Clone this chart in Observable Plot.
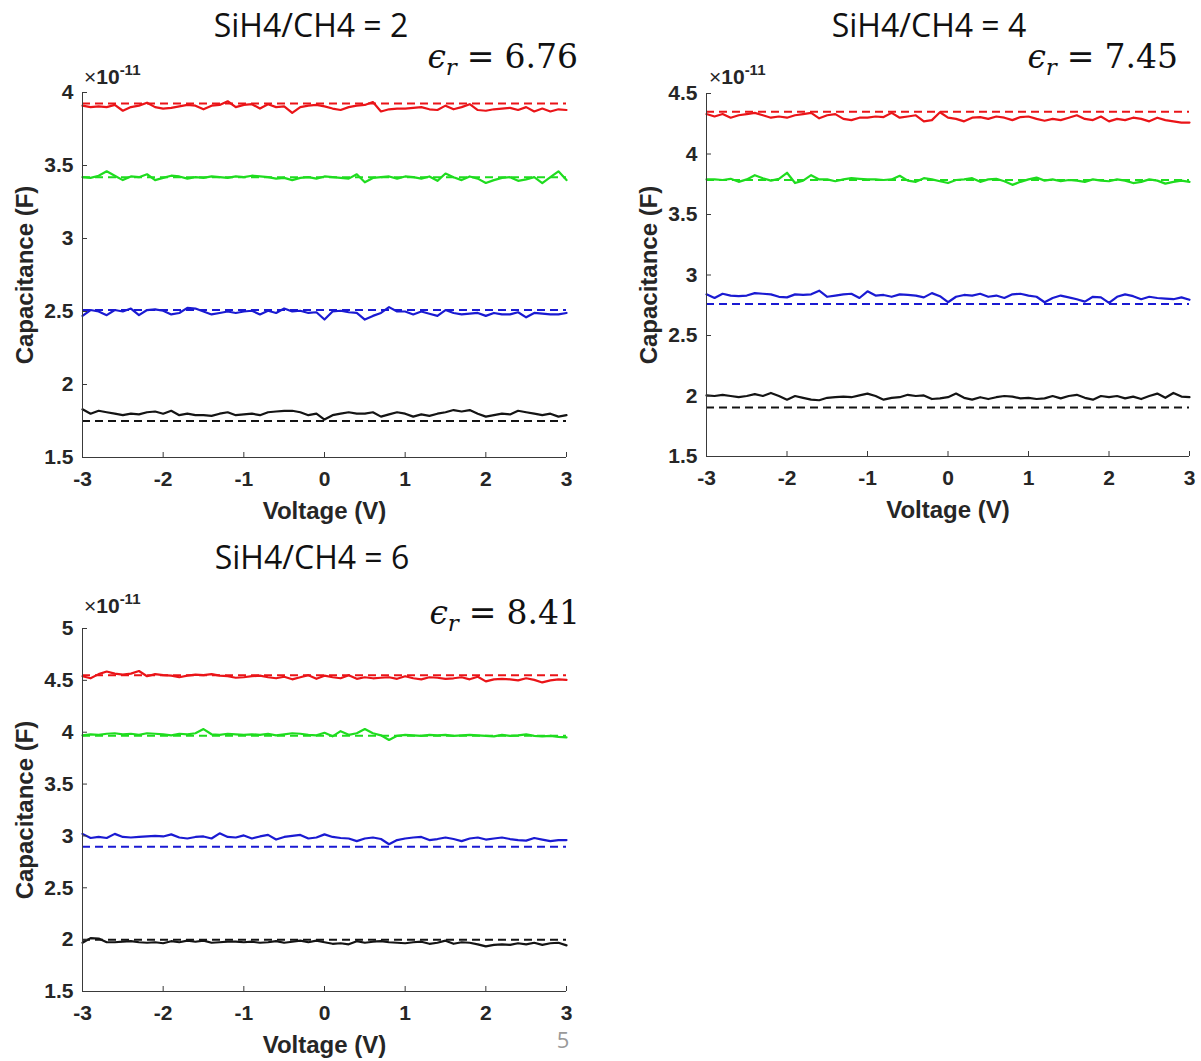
<!DOCTYPE html>
<html>
<head>
<meta charset="utf-8">
<script src="https://cdn.jsdelivr.net/npm/d3@7"></script>
<script src="https://cdn.jsdelivr.net/npm/@observablehq/plot@0.6"></script>
<style>
  html, body { margin: 0; padding: 0; background: #fff; }
  #page { position: relative; width: 1201px; height: 1061px; overflow: hidden; background: #fff; }
  .panel { position: absolute; }
  #overlay { position: absolute; left: 0; top: 0; pointer-events: none; }
</style>
</head>
<body>
<div id="page"></div>
<script>
// Voltage sweep, -3 V to +3 V in 0.1 V steps
const voltage = d3.range(61).map(i => +(i * 0.1 - 3).toFixed(1));
const voltageTicks = [-3, -2, -1, 0, 1, 2, 3];

const seriesColors = ["#ea1418", "#1fdc1f", "#1a1ad2", "#141414"];
const ratioTitles = ["SiH4/CH4 = 2", "SiH4/CH4 = 4", "SiH4/CH4 = 6"];
const permittivity = ["6.76", "7.45", "8.41"];

// Measured capacitance (units of 1e-11 F), SiH4/CH4 = 2
const ratio2Red = [3.91,3.90,3.905,3.90,3.915,3.875,3.90,3.91,3.93,3.90,
  3.89,3.895,3.905,3.915,3.91,3.885,3.91,3.915,3.94,3.90,
  3.915,3.92,3.89,3.92,3.90,3.905,3.86,3.90,3.91,3.915,
  3.905,3.89,3.88,3.90,3.91,3.915,3.935,3.87,3.885,3.89,
  3.89,3.895,3.90,3.885,3.88,3.91,3.885,3.90,3.92,3.88,
  3.875,3.885,3.89,3.895,3.88,3.90,3.87,3.89,3.87,3.885,
  3.88];
const ratio2Green = [3.42,3.415,3.43,3.46,3.43,3.40,3.425,3.42,3.44,3.40,
  3.415,3.43,3.425,3.41,3.42,3.415,3.425,3.42,3.415,3.425,
  3.42,3.43,3.425,3.42,3.41,3.415,3.40,3.415,3.42,3.41,
  3.425,3.42,3.415,3.41,3.44,3.385,3.415,3.42,3.425,3.41,
  3.425,3.42,3.41,3.425,3.395,3.445,3.42,3.40,3.425,3.41,
  3.38,3.40,3.415,3.42,3.395,3.405,3.42,3.38,3.42,3.46,
  3.40];
const ratio2Blue = [2.47,2.51,2.50,2.475,2.51,2.50,2.52,2.475,2.51,2.515,
  2.505,2.48,2.49,2.525,2.52,2.50,2.48,2.49,2.50,2.49,
  2.50,2.505,2.48,2.505,2.49,2.52,2.50,2.505,2.49,2.495,
  2.445,2.50,2.505,2.495,2.49,2.445,2.47,2.49,2.53,2.50,
  2.50,2.48,2.50,2.485,2.47,2.51,2.49,2.48,2.485,2.49,
  2.47,2.49,2.48,2.48,2.495,2.46,2.49,2.485,2.48,2.48,
  2.49];
const ratio2Black = [1.83,1.80,1.82,1.81,1.80,1.79,1.80,1.795,1.81,1.815,
  1.80,1.82,1.79,1.80,1.79,1.79,1.785,1.80,1.81,1.79,
  1.795,1.80,1.79,1.81,1.815,1.82,1.82,1.81,1.79,1.80,
  1.76,1.79,1.80,1.81,1.80,1.80,1.81,1.78,1.795,1.81,
  1.80,1.78,1.795,1.785,1.80,1.81,1.825,1.815,1.825,1.80,
  1.78,1.79,1.80,1.795,1.82,1.81,1.80,1.79,1.80,1.78,
  1.79];
// Model values (dashed), same order: red, green, blue, black
const ratio2Fit = [3.925, 3.42, 2.51, 1.75];

// SiH4/CH4 = 4
const ratio4Red = [4.33,4.31,4.33,4.30,4.32,4.33,4.34,4.32,4.30,4.31,
  4.30,4.32,4.33,4.34,4.295,4.32,4.33,4.29,4.28,4.30,
  4.30,4.31,4.305,4.34,4.30,4.31,4.32,4.27,4.28,4.345,
  4.30,4.29,4.27,4.30,4.305,4.29,4.31,4.30,4.28,4.305,
  4.31,4.29,4.275,4.29,4.28,4.30,4.32,4.29,4.28,4.31,
  4.27,4.29,4.28,4.30,4.29,4.27,4.30,4.28,4.27,4.26,
  4.26];
const ratio4Green = [3.79,3.79,3.785,3.795,3.77,3.79,3.825,3.80,3.78,3.795,
  3.845,3.76,3.78,3.825,3.79,3.79,3.775,3.79,3.80,3.795,
  3.79,3.79,3.785,3.79,3.82,3.78,3.77,3.80,3.79,3.775,
  3.76,3.785,3.79,3.80,3.77,3.79,3.795,3.775,3.745,3.77,
  3.79,3.805,3.78,3.79,3.775,3.785,3.78,3.77,3.79,3.78,
  3.775,3.79,3.78,3.76,3.77,3.79,3.78,3.755,3.77,3.78,
  3.77];
const ratio4Blue = [2.84,2.81,2.845,2.83,2.825,2.83,2.85,2.845,2.84,2.82,
  2.815,2.84,2.835,2.84,2.87,2.82,2.83,2.84,2.845,2.81,
  2.865,2.83,2.835,2.82,2.84,2.835,2.83,2.815,2.85,2.825,
  2.775,2.82,2.835,2.83,2.845,2.82,2.83,2.81,2.84,2.845,
  2.83,2.82,2.775,2.81,2.83,2.815,2.80,2.78,2.82,2.815,
  2.77,2.82,2.84,2.825,2.80,2.82,2.81,2.805,2.80,2.815,
  2.795];
const ratio4Black = [2.005,2.00,2.01,2.00,1.99,2.00,2.015,2.00,2.025,2.00,
  1.97,2.00,1.985,1.97,1.965,1.985,1.99,1.995,1.99,2.005,
  2.02,2.00,1.97,1.985,1.99,2.01,2.00,2.005,1.975,1.98,
  1.99,2.02,1.985,1.97,1.99,1.975,1.99,2.00,1.995,1.98,
  1.985,1.975,1.98,2.00,1.98,2.00,2.01,1.985,1.97,2.00,
  1.99,2.00,1.98,1.995,1.975,2.00,2.02,1.985,2.025,1.995,
  1.99];
const ratio4Fit = [4.35, 3.785, 2.76, 1.905];

// SiH4/CH4 = 6
const ratio6Red = [4.54,4.52,4.56,4.585,4.565,4.555,4.565,4.59,4.54,4.56,
  4.55,4.545,4.53,4.545,4.555,4.55,4.56,4.545,4.54,4.525,
  4.53,4.54,4.545,4.53,4.52,4.535,4.51,4.53,4.55,4.515,
  4.545,4.53,4.52,4.55,4.515,4.53,4.52,4.525,4.53,4.515,
  4.54,4.52,4.51,4.53,4.525,4.515,4.52,4.53,4.51,4.535,
  4.49,4.51,4.515,4.51,4.50,4.52,4.505,4.48,4.50,4.51,
  4.505];
const ratio6Green = [3.97,3.98,3.975,3.985,3.99,3.98,3.985,3.975,3.99,3.985,
  3.98,3.97,3.985,3.98,3.99,4.03,3.98,3.975,3.985,3.98,
  3.975,3.98,3.975,3.985,3.97,3.98,3.99,3.985,3.975,3.97,
  3.995,3.96,4.01,3.975,3.99,4.03,3.99,3.97,3.925,3.965,
  3.975,3.97,3.965,3.975,3.97,3.975,3.965,3.97,3.975,3.97,
  3.965,3.96,3.975,3.965,3.97,3.98,3.965,3.96,3.965,3.955,
  3.95];
const ratio6Blue = [3.02,2.98,2.99,2.98,3.02,2.99,2.985,2.99,2.995,3.00,
  2.995,3.015,2.985,2.975,2.99,2.995,2.975,3.025,2.99,2.985,
  3.005,2.975,2.995,3.01,2.965,2.99,3.00,3.01,2.975,2.985,
  3.015,2.99,2.98,2.975,2.95,2.975,2.985,2.97,2.92,2.96,
  2.975,2.985,2.99,2.96,2.97,2.985,2.97,2.95,2.975,2.985,
  2.965,2.975,2.985,2.97,2.96,2.955,2.98,2.965,2.95,2.96,
  2.96];
const ratio6Black = [1.97,2.015,2.01,1.975,1.975,1.98,1.985,1.975,1.97,1.975,
  1.965,1.985,1.975,1.99,1.98,1.99,1.97,1.975,1.98,1.98,
  1.975,1.98,1.97,1.975,1.985,1.97,1.98,1.99,1.975,1.99,
  1.975,1.96,1.965,1.955,1.985,1.97,1.98,1.985,1.975,1.97,
  1.965,1.975,1.98,1.96,1.97,1.99,1.96,1.975,1.97,1.955,
  1.935,1.95,1.955,1.95,1.965,1.955,1.97,1.95,1.965,1.97,
  1.945];
const ratio6Fit = [4.55, 3.965, 2.895, 2.00];

const axisInk = "#3a3a3a";
const textInk = "#262626";

const panels = [
  {series: [ratio2Red, ratio2Green, ratio2Blue, ratio2Black], fit: ratio2Fit, yMax: 4,
   left: 0, top: 60, width: 600, height: 480, mt: 32, mb: 83, ml: 82, mr: 34},
  {series: [ratio4Red, ratio4Green, ratio4Blue, ratio4Black], fit: ratio4Fit, yMax: 4.5,
   left: 620, top: 60, width: 581, height: 480, mt: 33, mb: 84, ml: 86, mr: 12},
  {series: [ratio6Red, ratio6Green, ratio6Blue, ratio6Black], fit: ratio6Fit, yMax: 5,
   left: 0, top: 590, width: 600, height: 470, mt: 38, mb: 69, ml: 82, mr: 34}
];

const page = document.getElementById("page");

function drawPanel(p) {
  const rows = [];
  p.series.forEach((vals, k) => vals.forEach((c, i) => rows.push({V: voltage[i], C: c, k, color: seriesColors[k]})));
  const fits = p.fit.map((c, k) => ({C: c, color: seriesColors[k]}));
  const yTicks = d3.range(1.5, p.yMax + 0.001, 0.5);
  const chart = Plot.plot({
    width: p.width,
    height: p.height,
    marginLeft: p.ml,
    marginRight: p.mr,
    marginTop: p.mt,
    marginBottom: p.mb,
    style: {fontFamily: "'Liberation Sans', Arial, sans-serif", fontWeight: "bold", fontSize: "21px", color: textInk, background: "transparent", overflow: "visible"},
    x: {domain: [-3, 3]},
    y: {domain: [1.5, p.yMax]},
    marks: [
      Plot.ruleY(fits, {y: "C", stroke: "color", strokeWidth: 2, strokeDasharray: "8,5"}),
      Plot.line(rows, {x: "V", y: "C", z: "k", stroke: "color", strokeWidth: 2.2, strokeLinejoin: "round"}),
      Plot.ruleX([-3], {stroke: axisInk, strokeWidth: 1}),
      Plot.ruleY([1.5], {stroke: axisInk, strokeWidth: 1}),
      Plot.axisX({ticks: voltageTicks, tickFormat: d => String(d), tickSize: -5, tickPadding: 19, stroke: axisInk, fill: textInk, label: null}),
      Plot.axisY({ticks: yTicks, tickFormat: d => String(d), tickSize: -5, tickPadding: 14, stroke: axisInk, fill: textInk, label: null}),
      Plot.axisX({ticks: [], label: "Voltage (V)", labelAnchor: "center", labelArrow: "none", labelOffset: 61, fontSize: 24, fill: textInk}),
      Plot.axisY({ticks: [], label: "Capacitance (F)", labelAnchor: "center", labelArrow: "none", labelOffset: 67, fontSize: 24, fill: textInk})
    ]
  });
  const holder = document.createElement("div");
  holder.className = "panel";
  holder.style.left = p.left + "px";
  holder.style.top = p.top + "px";
  holder.appendChild(chart);
  page.appendChild(holder);
}

panels.forEach(drawPanel);

// Titles, permittivity, exponent labels and page number
const ns = "http://www.w3.org/2000/svg";
const overlay = document.createElementNS(ns, "svg");
overlay.setAttribute("id", "overlay");
overlay.setAttribute("width", 1201);
overlay.setAttribute("height", 1061);
page.appendChild(overlay);

function addText(x, y, anchor, family, size, fill, parts) {
  const t = document.createElementNS(ns, "text");
  t.setAttribute("x", x);
  t.setAttribute("y", y);
  t.setAttribute("text-anchor", anchor);
  t.setAttribute("font-family", family);
  t.setAttribute("font-size", size);
  t.setAttribute("fill", fill);
  parts.forEach(part => {
    const s = document.createElementNS(ns, "tspan");
    s.textContent = part.text;
    for (const key of Object.keys(part)) if (key !== "text") s.setAttribute(key, part[key]);
    t.appendChild(s);
  });
  overlay.appendChild(t);
}

const titlePos = [[311, 37], [929, 37], [312, 569]];
const permPos = [[578, 68], [1178, 68], [580, 624]];
const expoPos = [[84, 84], [709, 84], [84, 613]];

ratioTitles.forEach((title, i) => {
  addText(titlePos[i][0], titlePos[i][1], "middle", "'Open Sans', sans-serif", 32, "#111", [{text: title}]);
  addText(permPos[i][0], permPos[i][1], "end", "'DejaVu Serif', serif", 33, "#111", [
    {text: "\u03f5", "font-style": "italic"},
    {text: "r", "font-style": "italic", "font-size": 23, dy: 7},
    {text: "=", dy: -7, dx: 10},
    {text: permittivity[i], dx: 10}
  ]);
  addText(expoPos[i][0], expoPos[i][1], "start", "'Liberation Sans', Arial, sans-serif", 21, textInk, [
    {text: "\u00d7"},
    {text: "10", "font-weight": "bold"},
    {text: "-11", "font-weight": "bold", "font-size": 15, dy: -9}
  ]);
});

addText(563, 1048, "middle", "'Open Sans', sans-serif", 22, "#9a9a9a", [{text: "5"}]);
</script>
</body>
</html>
